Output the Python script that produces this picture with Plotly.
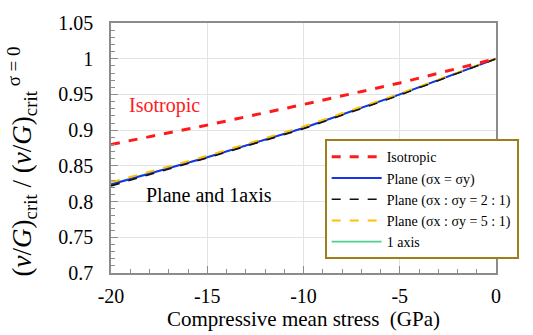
import plotly.graph_objects as go

# Compressive mean stress (GPa)
stress = [-20, -15, -10, -5, 0]

# Normalised critical ratio for each loading case
isotropic = [0.880, 0.907, 0.936, 0.966, 1.000]
plane_equal = [0.824, 0.862, 0.903, 0.950, 1.000]
plane_2to1 = [0.822, 0.861, 0.902, 0.949, 1.000]
plane_5to1 = [0.827, 0.864, 0.905, 0.951, 1.000]
one_axis = [0.825, 0.862, 0.903, 0.950, 1.000]

y_ticks = [0.7, 0.75, 0.8, 0.85, 0.9, 0.95, 1.0, 1.05]
y_tick_text = ["0.7", "0.75", "0.8", "0.85", "0.9", "0.95", "1", "1.05"]
x_ticks = [-20, -15, -10, -5, 0]
x_tick_text = ["-20", "-15", "-10", "-5", "0"]

serif = "Liberation Serif"

fig = go.Figure()
fig.add_trace(go.Scatter(x=stress, y=one_axis, mode="lines", name="1 axis",
                         line=dict(color="#4FD08C", width=1.6)))
fig.add_trace(go.Scatter(x=stress, y=plane_equal, mode="lines", name="Plane (σx = σy)",
                         line=dict(color="#1A35E6", width=2)))
fig.add_trace(go.Scatter(x=stress, y=plane_5to1, mode="lines", name="Plane (σx : σy = 5 : 1)",
                         line=dict(color="#FFC000", width=2, dash="dash")))
fig.add_trace(go.Scatter(x=stress, y=plane_2to1, mode="lines", name="Plane (σx : σy = 2 : 1)",
                         line=dict(color="#111111", width=1.6, dash="dash")))
fig.add_trace(go.Scatter(x=stress, y=isotropic, mode="lines", name="Isotropic",
                         line=dict(color="#FF1A1A", width=3, dash="dash")))

# legend order: Isotropic, Plane =, Plane 2:1, Plane 5:1, 1 axis
ranks = {"Isotropic": 1, "Plane (σx = σy)": 2, "Plane (σx : σy = 2 : 1)": 3,
         "Plane (σx : σy = 5 : 1)": 4, "1 axis": 5}
for tr in fig.data:
    tr.legendrank = ranks[tr.name]

fig.add_annotation(x=-17.2, y=0.934, text="Isotropic", showarrow=False,
                   font=dict(family=serif, size=20, color="#FF1A1A"))
fig.add_annotation(x=-14.9, y=0.809, text="Plane and 1axis", showarrow=False,
                   font=dict(family=serif, size=20, color="#000000"))

# y-axis title placed as a rotated annotation
fig.add_annotation(xref="paper", yref="paper", x=-0.232, y=0.445,
                   xanchor="center", yanchor="middle", textangle=-90, showarrow=False,
                   text="(<i>v</i>/<i>G</i>)<sub>crit</sub> / (<i>v</i>/<i>G</i>)<sub>crit</sub><sup> σ = 0</sup>",
                   font=dict(family=serif, size=27, color="#000000"))

axis_common = dict(showline=True, linecolor="#8C8C8C", linewidth=1.5, mirror=True,
                   showgrid=True, gridcolor="#E3E3E3", gridwidth=1,
                   ticks="inside", tickcolor="#8C8C8C", ticklen=7, tickwidth=1,
                   zeroline=False, tickfont=dict(family=serif, size=20, color="#000000"))

fig.update_xaxes(range=[-20, 0], tickvals=x_ticks, ticktext=x_tick_text,
                 ticklabelstandoff=4,
                 minor=dict(dtick=1, ticks="inside", ticklen=4, tickcolor="#8C8C8C",
                            showgrid=False),
                 title=dict(text="Compressive mean stress\u00a0\u00a0(GPa)",
                            font=dict(family=serif, size=21, color="#000000"), standoff=2),
                 **axis_common)
fig.update_yaxes(range=[0.7, 1.05], tickvals=y_ticks, ticktext=y_tick_text,
                 ticklabelstandoff=12,
                 minor=dict(dtick=0.01, ticks="inside", ticklen=4, tickcolor="#8C8C8C",
                            showgrid=False),
                 **axis_common)

fig.update_layout(
    width=533, height=335,
    margin=dict(l=111, r=37, t=19, b=59),
    plot_bgcolor="#FFFFFF", paper_bgcolor="#FFFFFF",
    showlegend=True,
    legend=dict(x=0.555, y=0.535, xanchor="left", yanchor="top",
                bgcolor="#FFFFFF", bordercolor="#A07D1C", borderwidth=2,
                font=dict(family=serif, size=14, color="#000000"),
                tracegroupgap=0, itemwidth=50),
)

fig.write_html("out.html")
